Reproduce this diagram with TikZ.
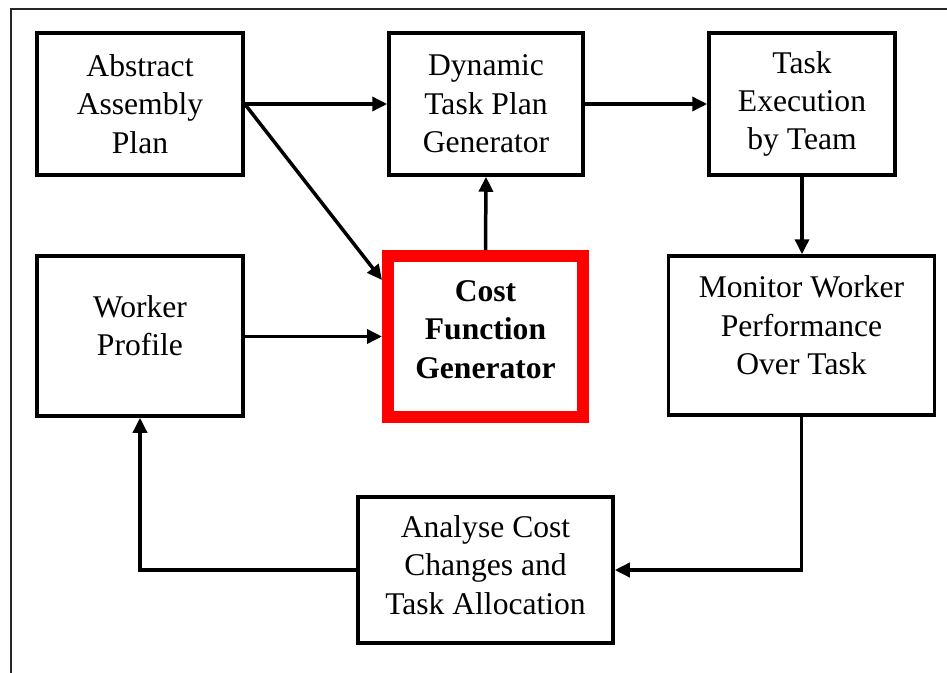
\documentclass[tikz,border=0pt]{standalone}
\usepackage{fontspec}
\setmainfont{Liberation Serif}
\usetikzlibrary{arrows.meta}
\begin{document}
\begin{tikzpicture}[x=1pt,y=-1pt,
  box/.style={draw=black, line width=3.5pt, fill=white, align=center,
    inner sep=0pt, font=\fontsize{31.6}{38.4}\selectfont},
  keybox/.style={box, draw=red, line width=12pt, font=\fontsize{31.6}{38.4}\selectfont\bfseries},
  link/.style={line width=3.5pt, -{Triangle[length=15pt,width=14pt]}},
  frameline/.style={line width=2pt, draw=black!85}]
  \useasboundingbox (0,0) rectangle (947,672);
  % outer frame (only its top and left sides fall on the page)
  \coordinate (fbl) at (11,700);
  \coordinate (ftl) at (11,9);
  \coordinate (ftr) at (980,9);
  \draw[frameline] (fbl) -- (ftl) -- (ftr);

  % boxes
  \node[box, minimum width=206pt, minimum height=142pt] (abs) at (140,104)
    {Abstract\\Assembly\\Plan};
  \node[box, minimum width=194pt, minimum height=142pt] (dyn) at (486,104)
    {Dynamic\\Task Plan\\Generator};
  \node[box, minimum width=186pt, minimum height=142pt] (exe) at (802,104)
    {Task\\Execution\\by Team};
  \node[box, minimum width=206pt, minimum height=160pt] (wrk) at (140,336)
    {Worker\\Profile\\[-18pt]};
  \node[keybox, minimum width=195pt, minimum height=161pt] (cost) at (485.5,336.5)
    {Cost\\Function\\Generator\\[-24pt]};
  \node[box, minimum width=266pt, minimum height=159pt] (mon) at (801.5,335.5)
    {Monitor Worker\\Performance\\Over Task\\[-18pt]};
  \node[box, minimum width=255pt, minimum height=146pt] (ana) at (485.5,570)
    {Analyse Cost\\Changes and\\Task Allocation\\[-28pt]};

  % connectors
  \draw[link] (abs.east) -- (dyn.west);
  \draw[link] (abs.east) -- ([yshift=-30pt]cost.north west);
  \draw[link] (dyn.east) -- (exe.west);
  \draw[link] (cost.north) -- (dyn.south);
  \draw[link] (wrk.east |- cost.west) -- (cost.west);
  \draw[link] (exe.south) -- (exe.south |- mon.north);
  \draw[link] (mon.south) |- (ana.east);
  \draw[link] (ana.west) -| (wrk.south);
\end{tikzpicture}
\end{document}
